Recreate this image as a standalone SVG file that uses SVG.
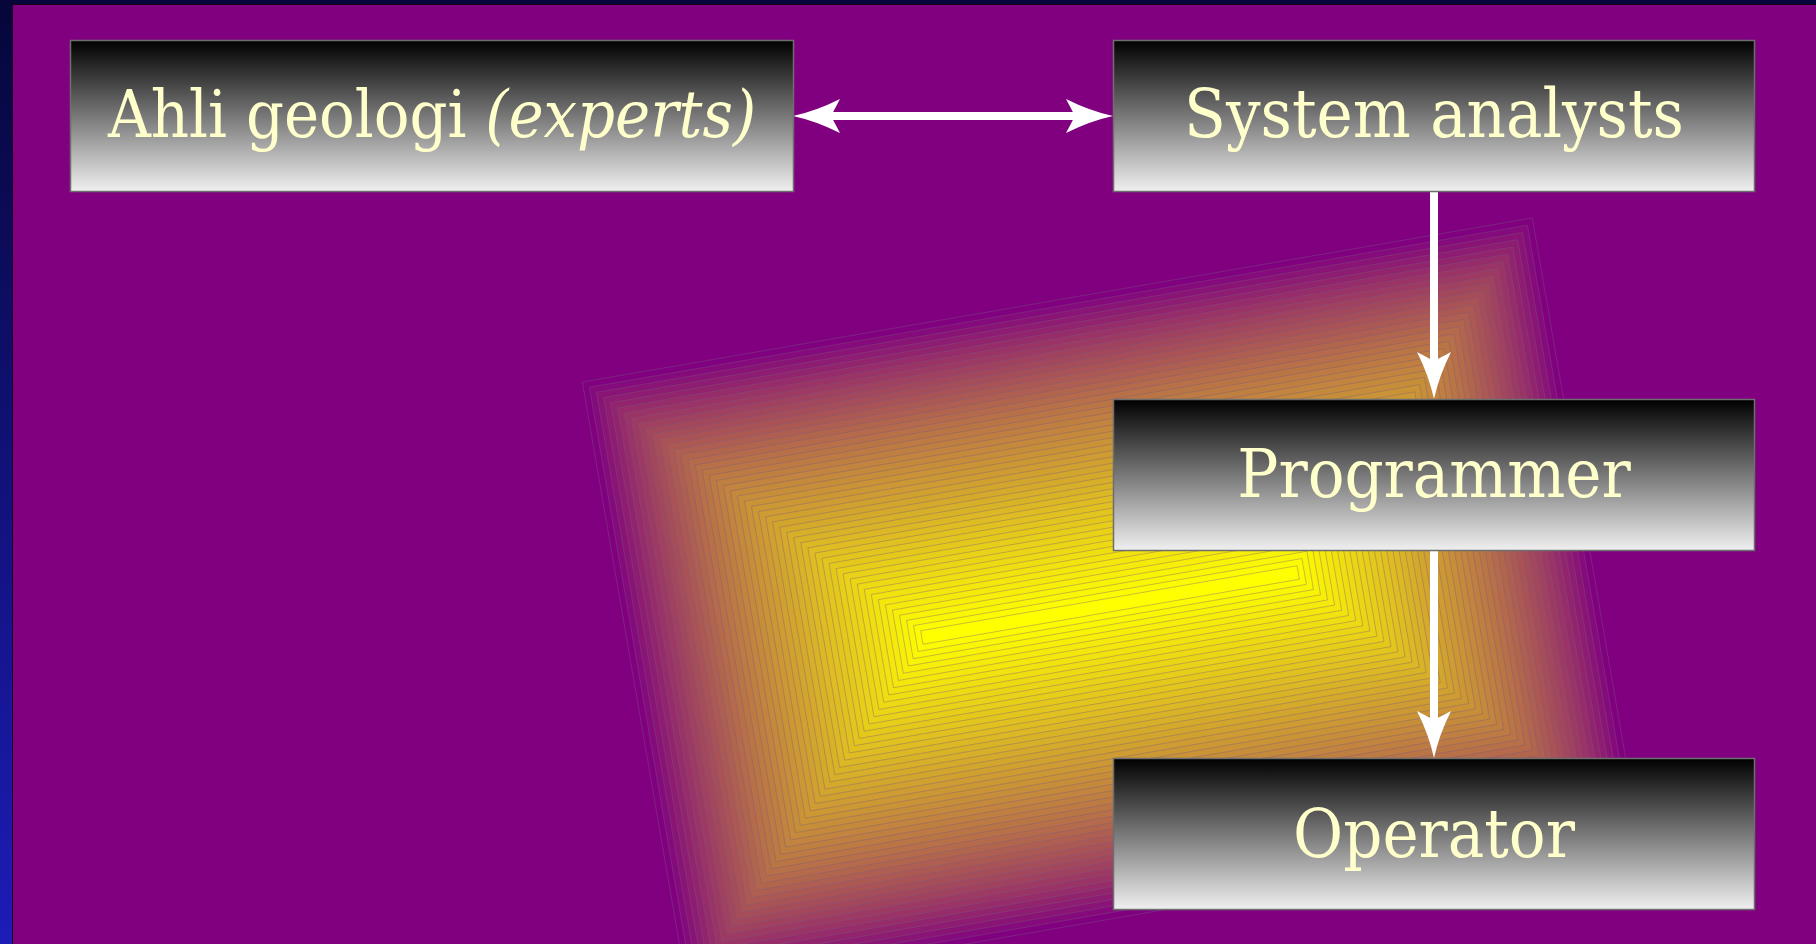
<svg xmlns="http://www.w3.org/2000/svg" width="1816" height="944" viewBox="0 0 1816 944">
<defs>
<linearGradient id="bg" x1="0" y1="0" x2="0" y2="1">
<stop offset="0" stop-color="#06063a"/>
<stop offset="1" stop-color="#1c1cb8"/>
</linearGradient>
<linearGradient id="box" x1="0" y1="0" x2="0" y2="1">
<stop offset="0" stop-color="#000000"/>
<stop offset="1" stop-color="#f0f0f0"/>
</linearGradient>
<marker id="ah" markerUnits="userSpaceOnUse" markerWidth="48" markerHeight="36" viewBox="0 0 48 34" refX="17" refY="17" orient="auto-start-reverse">
<path d="M0,0 Q24,12 47,17 Q24,22 0,34 L9,17 Z" fill="#ffffff"/>
</marker>
<style>
.b{fill:url(#box);stroke:#6e6e6e;stroke-width:1.5}
.t{font-family:"DejaVu Serif","Liberation Serif",serif;font-stretch:condensed;font-size:68px;fill:#ffffcc;text-anchor:middle}
.c{fill:none;stroke:#ffffff;stroke-width:8}
.g rect{stroke:#7a5a80;stroke-opacity:0.5;stroke-width:0.7}
</style>
</defs>
<rect x="0" y="0" width="1816" height="944" fill="url(#bg)"/>
<rect x="12.5" y="4.5" width="1820" height="960" fill="#800080" stroke="#1a001a" stroke-width="1"/>
<g id="glow" class="g" transform="translate(1110,605) rotate(-9.8) scale(1.0105,1.051)">
<rect x="-477" y="-294.5" width="954" height="589" fill="rgb(128,0,128)" stroke="none"/>
<rect x="-471" y="-288.5" width="942" height="577" fill="rgb(133,10,123)"/>
<rect x="-465" y="-282.5" width="930" height="565" fill="rgb(138,20,118)"/>
<rect x="-459" y="-276.5" width="918" height="553" fill="rgb(142,28,114)"/>
<rect x="-453" y="-270.5" width="906" height="541" fill="rgb(146,36,110)"/>
<rect x="-447" y="-264.5" width="894" height="529" fill="rgb(150,44,106)"/>
<rect x="-441" y="-258.5" width="882" height="517" fill="rgb(154,52,102)"/>
<rect x="-435" y="-252.5" width="870" height="505" fill="rgb(157,58,99)"/>
<rect x="-429" y="-246.5" width="858" height="493" fill="rgb(160,65,96)"/>
<rect x="-423" y="-240.5" width="846" height="481" fill="rgb(163,71,93)"/>
<rect x="-417" y="-234.5" width="834" height="469" fill="rgb(166,77,90)"/>
<rect x="-411" y="-228.5" width="822" height="457" fill="rgb(169,83,87)"/>
<rect x="-405" y="-222.5" width="810" height="445" fill="rgb(172,89,84)"/>
<rect x="-399" y="-216.5" width="798" height="433" fill="rgb(175,95,81)"/>
<rect x="-393" y="-210.5" width="786" height="421" fill="rgb(178,101,77)"/>
<rect x="-387" y="-204.5" width="774" height="409" fill="rgb(181,107,75)"/>
<rect x="-381" y="-198.5" width="762" height="397" fill="rgb(184,112,72)"/>
<rect x="-375" y="-192.5" width="750" height="385" fill="rgb(186,117,69)"/>
<rect x="-369" y="-186.5" width="738" height="373" fill="rgb(189,122,67)"/>
<rect x="-363" y="-180.5" width="726" height="361" fill="rgb(191,127,64)"/>
<rect x="-357" y="-174.5" width="714" height="349" fill="rgb(194,132,62)"/>
<rect x="-351" y="-168.5" width="702" height="337" fill="rgb(196,137,59)"/>
<rect x="-345" y="-162.5" width="690" height="325" fill="rgb(199,142,57)"/>
<rect x="-339" y="-156.5" width="678" height="313" fill="rgb(201,147,54)"/>
<rect x="-333" y="-150.5" width="666" height="301" fill="rgb(204,152,52)"/>
<rect x="-327" y="-144.5" width="654" height="289" fill="rgb(206,156,50)"/>
<rect x="-321" y="-138.5" width="642" height="277" fill="rgb(208,161,47)"/>
<rect x="-315" y="-132.5" width="630" height="265" fill="rgb(210,166,45)"/>
<rect x="-309" y="-126.5" width="618" height="253" fill="rgb(213,170,43)"/>
<rect x="-303" y="-120.5" width="606" height="241" fill="rgb(215,175,40)"/>
<rect x="-297" y="-114.5" width="594" height="229" fill="rgb(217,179,38)"/>
<rect x="-291" y="-108.5" width="582" height="217" fill="rgb(219,184,36)"/>
<rect x="-285" y="-102.5" width="570" height="205" fill="rgb(222,188,34)"/>
<rect x="-279" y="-96.5" width="558" height="193" fill="rgb(224,193,31)"/>
<rect x="-273" y="-90.5" width="546" height="181" fill="rgb(226,197,29)"/>
<rect x="-267" y="-84.5" width="534" height="169" fill="rgb(228,201,27)"/>
<rect x="-261" y="-78.5" width="522" height="157" fill="rgb(230,206,25)"/>
<rect x="-255" y="-72.5" width="510" height="145" fill="rgb(233,210,23)"/>
<rect x="-249" y="-66.5" width="498" height="133" fill="rgb(235,214,21)"/>
<rect x="-243" y="-60.5" width="486" height="121" fill="rgb(237,218,18)"/>
<rect x="-237" y="-54.5" width="474" height="109" fill="rgb(239,222,16)"/>
<rect x="-231" y="-48.5" width="462" height="97" fill="rgb(241,227,14)"/>
<rect x="-225" y="-42.5" width="450" height="85" fill="rgb(243,231,12)"/>
<rect x="-219" y="-36.5" width="438" height="73" fill="rgb(245,235,10)"/>
<rect x="-213" y="-30.5" width="426" height="61" fill="rgb(247,239,8)"/>
<rect x="-207" y="-24.5" width="414" height="49" fill="rgb(249,243,6)"/>
<rect x="-201" y="-18.5" width="402" height="37" fill="rgb(251,247,4)"/>
<rect x="-195" y="-12.5" width="390" height="25" fill="rgb(253,251,2)"/>
<rect x="-189" y="-6.5" width="378" height="13" fill="rgb(255,255,0)"/>
</g>
<g id="connectors">
<path class="c" d="M823,116 L1083,116" marker-start="url(#ah)" marker-end="url(#ah)"/>
<path class="c" d="M1434,192 L1434,369" marker-end="url(#ah)"/>
<path class="c" d="M1434,551 L1434,728" marker-end="url(#ah)"/>
</g>
<g id="node-ahli">
<rect class="b" x="70.5" y="40.5" width="723" height="151"/>
<text class="t" x="432" y="137" style="font-size:66px">Ahli geologi <tspan font-style="italic">(experts)</tspan></text>
</g>
<g id="node-system">
<rect class="b" x="1113.5" y="40.5" width="641" height="151"/>
<text class="t" x="1434" y="137">System analysts</text>
</g>
<g id="node-programmer">
<rect class="b" x="1113.5" y="399.5" width="641" height="151"/>
<text class="t" x="1434" y="497">Programmer</text>
</g>
<g id="node-operator">
<rect class="b" x="1113.5" y="758.5" width="641" height="151"/>
<text class="t" x="1434" y="857">Operator</text>
</g>
</svg>
